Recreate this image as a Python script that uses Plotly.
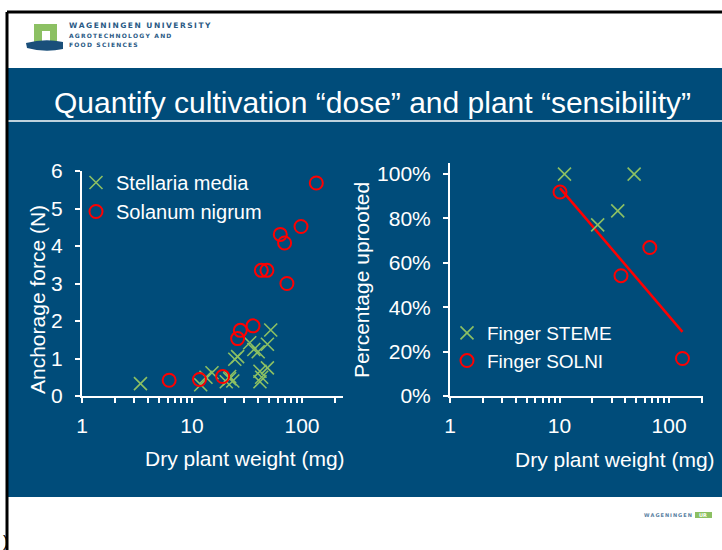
import plotly.graph_objects as go

# ---- data ----
stellaria_weight = [3.4, 12.0, 13.4, 15.2, 20.5, 22.0, 22.0, 23.5, 24.5, 26.0,
                    33.5, 36.5, 40.0, 48.5, 52.0, 41.5, 43.0, 41.5, 48.5]
stellaria_force = [0.33, 0.30, 0.50, 0.62, 0.38, 0.46, 0.52, 0.40, 0.98, 1.05,
                   1.42, 1.24, 1.18, 1.38, 1.76, 0.38, 0.50, 0.66, 0.75]

solanum_weight = [6.2, 11.7, 19.0, 26.0, 27.5, 35.9, 42.7, 48.0, 63.5, 69.5, 73.0, 98.0, 135.0]
solanum_force = [0.42, 0.44, 0.52, 1.53, 1.75, 1.87, 3.35, 3.35, 4.31, 4.08, 3.00, 4.52, 5.68]

steme_weight = [11.1, 48.0, 34.0, 22.3]
steme_uprooted = [1.00, 1.00, 0.834, 0.771]

solni_weight = [10.1, 66.7, 36.4, 132.6]
solni_uprooted = [0.919, 0.669, 0.542, 0.169]

trend_weight = [10.1, 132.6]
trend_uprooted = [0.937, 0.289]

x_ticks = [1, 2, 3, 4, 5, 6, 7, 8, 9, 10, 20, 30, 40, 50, 60, 70, 80, 90, 100, 200]
x_tick_text = ["1" if v == 1 else "10" if v == 10 else "100" if v == 100 else "" for v in x_ticks]

title_text = "Quantify cultivation \u201cdose\u201d and plant \u201csensibility\u201d"

BLUE = "#004c7a"
GREEN = "#8cc063"
RED = "#ff0000"
W, H = 722, 550
FONT = "Liberation Sans, Arial"


def px(x):
    return x / W


def py(y):
    return 1 - y / H


def spaced(s):
    # letter-spaced logo text
    return "\u2009".join(s)


fig = go.Figure()

fig.add_trace(go.Scatter(
    x=stellaria_weight, y=stellaria_force, mode="markers", name="Stellaria media",
    marker=dict(symbol="x-thin-open", size=13, line=dict(color=GREEN, width=1.6), color=GREEN),
    xaxis="x", yaxis="y", legend="legend"))
fig.add_trace(go.Scatter(
    x=solanum_weight, y=solanum_force, mode="markers", name="Solanum nigrum",
    marker=dict(symbol="circle-open", size=13, line=dict(color=RED, width=2), color=RED),
    xaxis="x", yaxis="y", legend="legend"))

fig.add_trace(go.Scatter(
    x=trend_weight, y=trend_uprooted, mode="lines", showlegend=False,
    line=dict(color=RED, width=2.5), xaxis="x2", yaxis="y2"))
fig.add_trace(go.Scatter(
    x=steme_weight, y=steme_uprooted, mode="markers", name="Finger STEME",
    marker=dict(symbol="x-thin-open", size=13, line=dict(color=GREEN, width=1.6), color=GREEN),
    xaxis="x2", yaxis="y2", legend="legend2"))
fig.add_trace(go.Scatter(
    x=solni_weight, y=solni_uprooted, mode="markers", name="Finger SOLNI",
    marker=dict(symbol="circle-open", size=13, line=dict(color=RED, width=2), color=RED),
    xaxis="x2", yaxis="y2", legend="legend2"))

tick_font = dict(family=FONT, size=21, color="white")

xaxis_common = dict(
    type="log", showgrid=False, zeroline=False, showline=True, linecolor="white", linewidth=2,
    ticks="outside", tickcolor="white", ticklen=5, tickwidth=1.5, automargin=False,
    tickvals=x_ticks, ticktext=x_tick_text, tickfont=tick_font, ticklabelstandoff=5,
)
yaxis_common = dict(
    showgrid=False, zeroline=False, showline=True, linecolor="white", linewidth=2,
    ticks="outside", tickcolor="white", ticklen=5, tickwidth=1.5, tickfont=tick_font,
    ticklabelstandoff=8, automargin=False,
)

fig.update_layout(
    width=W, height=H,
    margin=dict(l=0, r=0, t=0, b=0, autoexpand=False),
    paper_bgcolor="white", plot_bgcolor="rgba(0,0,0,0)",
    xaxis=dict(xaxis_common, domain=[px(82), px(343)], range=[0, 2.373], anchor="y"),
    yaxis=dict(yaxis_common, domain=[py(396), py(171)], range=[0, 6], dtick=1, anchor="x"),
    xaxis2=dict(xaxis_common, domain=[px(450), px(703)], range=[0, 2.31], anchor="y2"),
    yaxis2=dict(yaxis_common, domain=[py(396), py(163)], range=[0, 1.05], dtick=0.2,
                tickformat=".0%", anchor="x2"),
    legend=dict(x=px(76), y=py(163), xanchor="left", yanchor="top", bgcolor="rgba(0,0,0,0)",
                font=dict(family=FONT, size=20, color="white"),
                itemwidth=30, tracegroupgap=0),
    legend2=dict(x=px(447), y=py(314), xanchor="left", yanchor="top", bgcolor="rgba(0,0,0,0)",
                 font=dict(family=FONT, size=19, color="white"),
                 itemwidth=30, tracegroupgap=0),
    showlegend=True,
)

# slide frame, blue panel, title rule
shapes = [
    dict(type="rect", xref="paper", yref="paper", x0=px(8), x1=1, y0=py(497), y1=py(68),
         fillcolor=BLUE, line_width=0, layer="below"),
    dict(type="line", xref="paper", yref="paper", x0=px(8), x1=1, y0=py(121), y1=py(121),
         line=dict(color="white", width=1.5)),
    dict(type="line", xref="paper", yref="paper", x0=px(7), x1=1, y0=py(12), y1=py(12),
         line=dict(color="black", width=3)),
    dict(type="line", xref="paper", yref="paper", x0=px(7), x1=px(7), y0=0, y1=py(12),
         line=dict(color="black", width=3)),
    # university logo
    dict(type="rect", xref="paper", yref="paper", x0=px(34), x1=px(57), y0=py(43), y1=py(24),
         fillcolor="#8cc063", line_width=0),
    dict(type="rect", xref="paper", yref="paper", x0=px(42), x1=px(50), y0=py(43), y1=py(31),
         fillcolor="white", line_width=0),
    dict(type="path", xref="paper", yref="paper",
         path=(f"M {px(26)} {py(43)} Q {px(45)} {py(38)} {px(63)} {py(42)} "
               f"L {px(63)} {py(49)} Q {px(45)} {py(53)} {px(27)} {py(48)} Z"),
         fillcolor="#1a4f7a", line_width=0),
    # bottom-right badge
    dict(type="rect", xref="paper", yref="paper", x0=px(695), x1=px(712), y0=py(518), y1=py(512),
         fillcolor="#8cc063", line_width=0),
]
fig.update_layout(shapes=shapes)

annotations = [
    dict(text=title_text, x=px(372), y=py(103)),
    dict(text="Anchorage force (N)", x=px(37), y=py(300), textangle=-90),
    dict(text="Dry plant weight (mg)", x=px(245), y=py(458)),
    dict(text="Percentage uprooted", x=px(362), y=py(280), textangle=-90),
    dict(text="Dry plant weight (mg)", x=px(615), y=py(460)),
]
for a in annotations:
    size = 30 if a["text"] == title_text else 21
    a.update(xref="paper", yref="paper", xanchor="center", yanchor="middle", showarrow=False,
             font=dict(family=FONT, size=size, color="white"))

logo_texts = [
    dict(text="<b>" + spaced("WAGENINGEN UNIVERSITY") + "</b>", x=px(67), y=py(26), size=7.5),
    dict(text="<b>" + spaced("AGROTECHNOLOGY AND") + "</b>", x=px(67), y=py(36), size=6),
    dict(text="<b>" + spaced("FOOD SCIENCES") + "</b>", x=px(67), y=py(45), size=6),
]
for t in logo_texts:
    annotations.append(dict(text=t["text"], x=t["x"], y=t["y"], xref="paper", yref="paper",
                            xanchor="left", yanchor="middle", showarrow=False,
                            font=dict(family="DejaVu Sans", size=t["size"], color="#2a5a85")))

annotations += [
    dict(text="<b>" + spaced("WAGENINGEN") + "</b>", x=px(694), y=py(515), xref="paper",
         yref="paper", xanchor="right", yanchor="middle", showarrow=False,
         font=dict(family="DejaVu Sans", size=5, color="#5a7f9f")),
    dict(text="<b>UR</b>", x=px(703), y=py(515), xref="paper", yref="paper", xanchor="center",
         yanchor="middle", showarrow=False, font=dict(family="DejaVu Sans", size=5, color="white")),
    dict(text=")", x=px(1), y=py(541), xref="paper", yref="paper", xanchor="left",
         yanchor="middle", showarrow=False, font=dict(family=FONT, size=16, color="black")),
]
fig.update_layout(annotations=annotations)

fig.write_html("out.html", config={"displayModeBar": False},
               post_script="document.body.style.margin = '0';")
